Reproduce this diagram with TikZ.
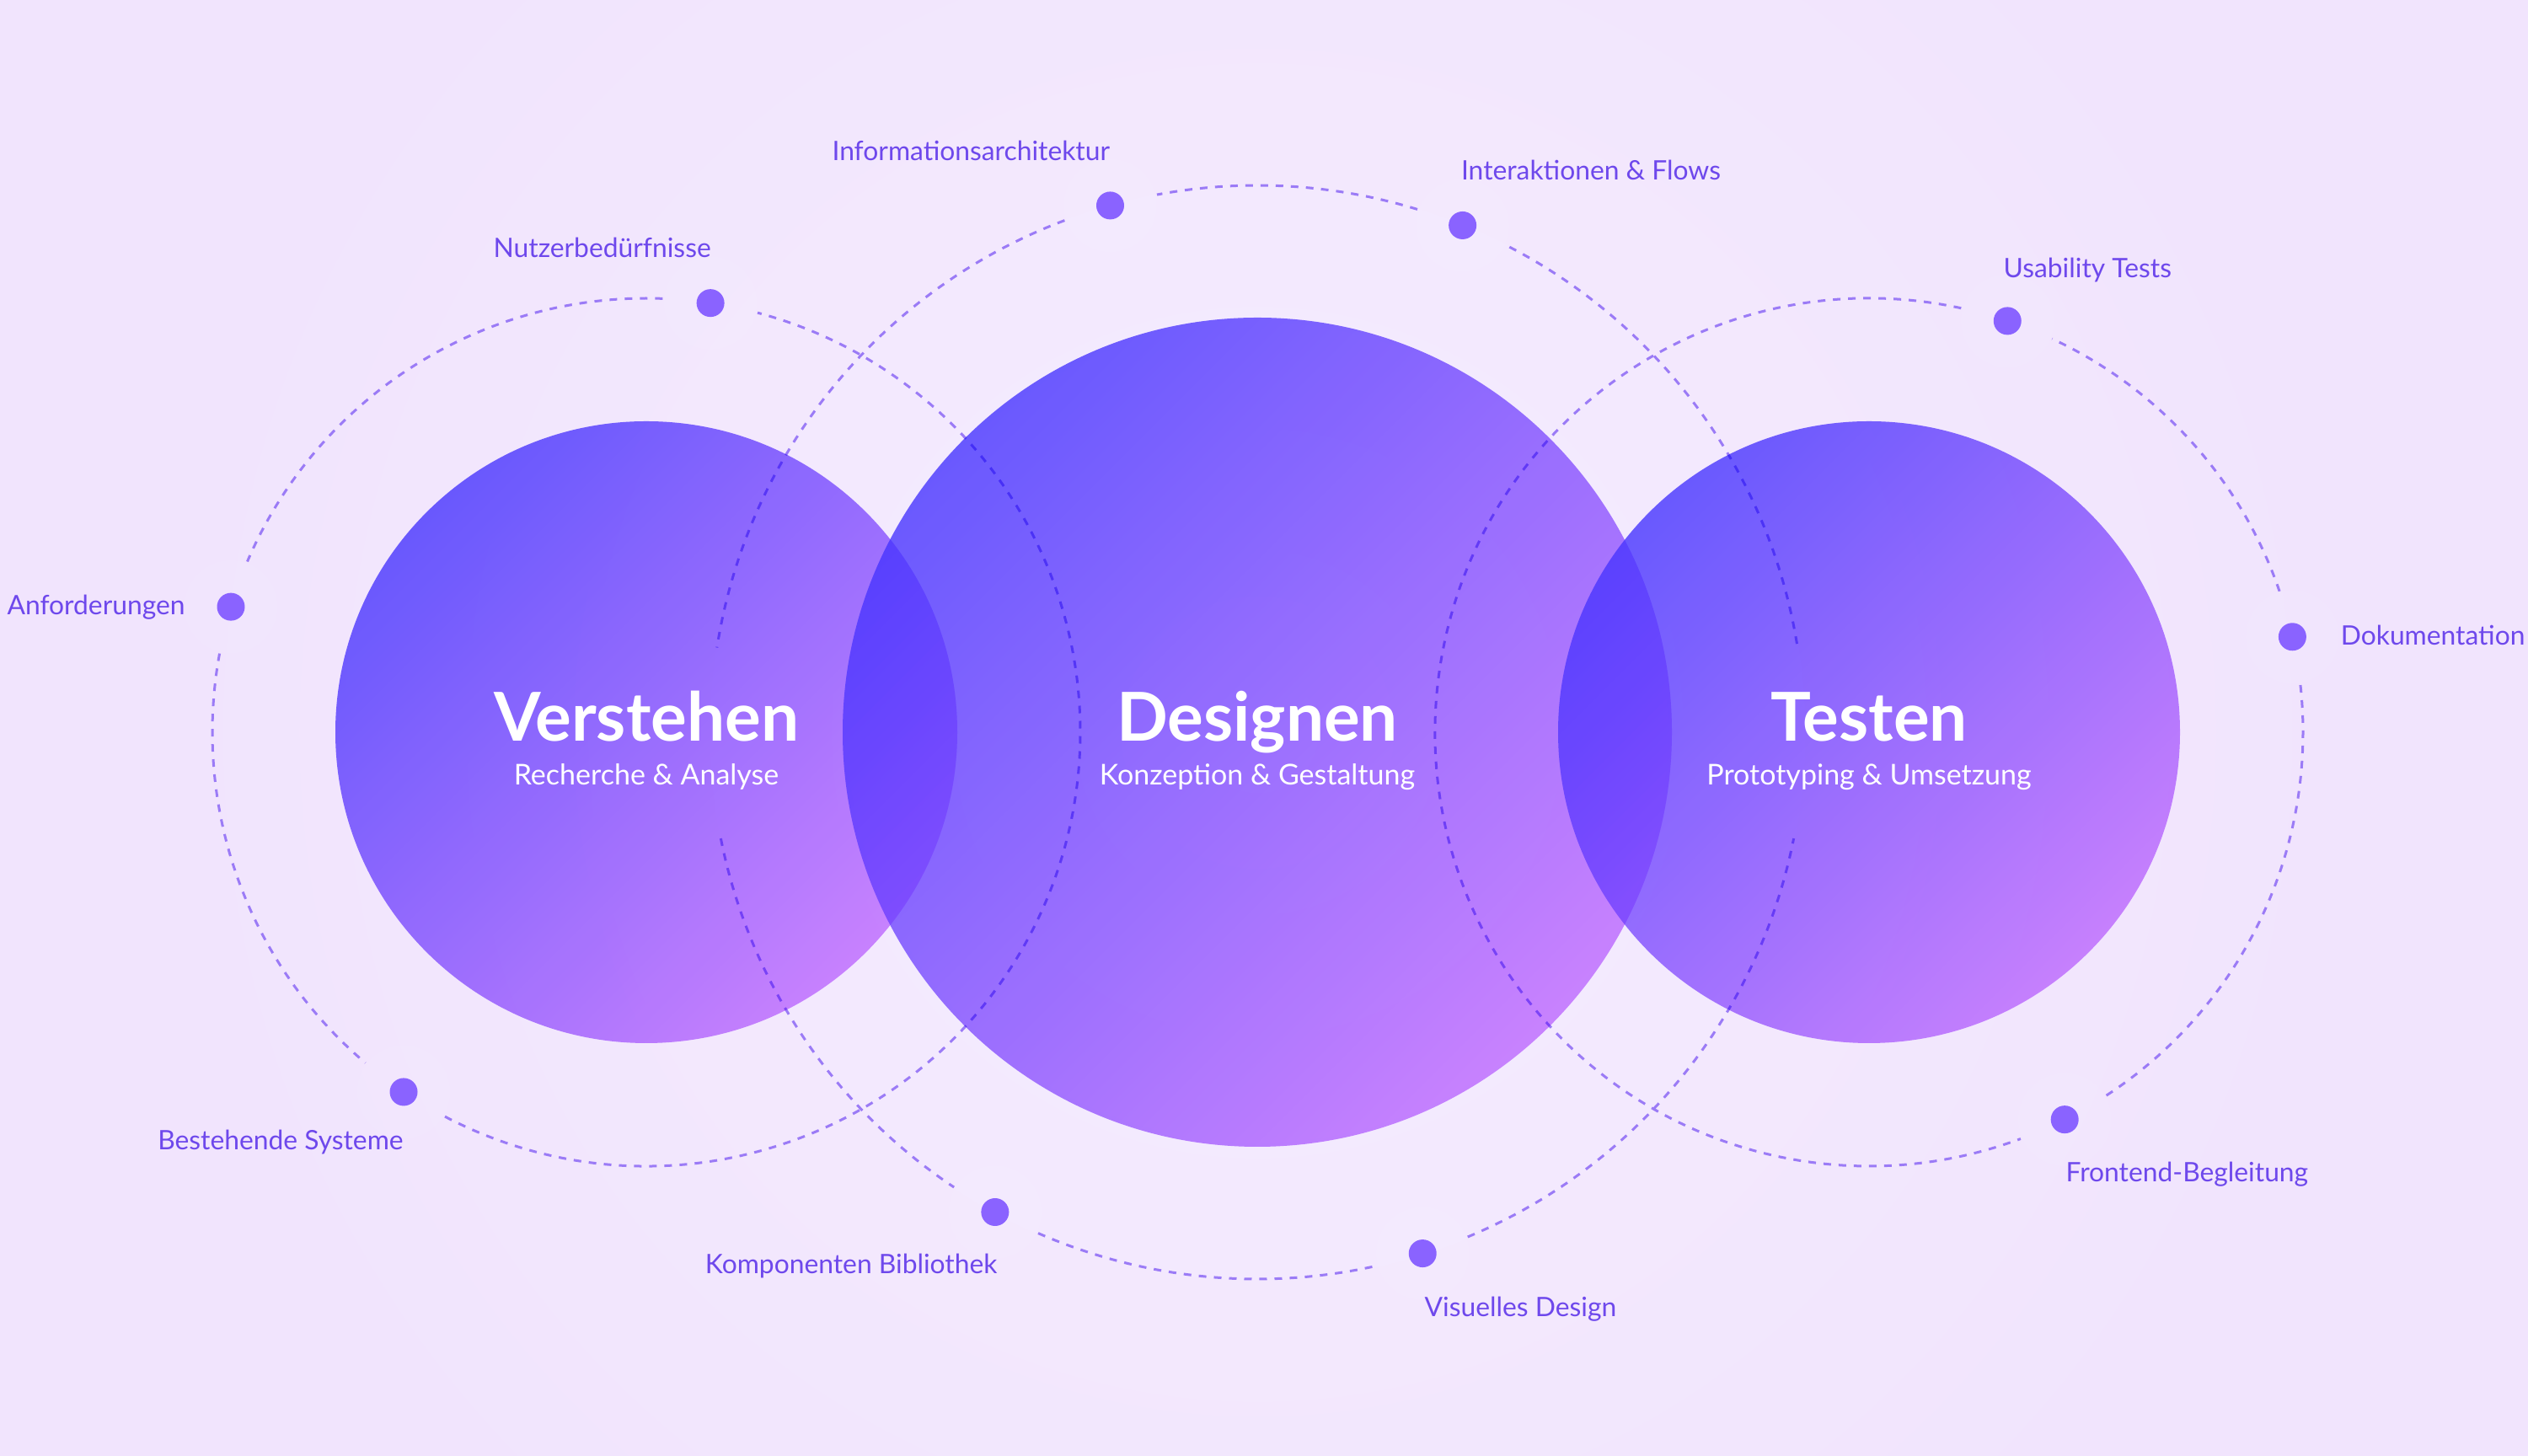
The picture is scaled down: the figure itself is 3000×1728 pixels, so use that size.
\documentclass[tikz,border=0pt]{standalone}
\usepackage{fontspec}
\setmainfont{Lato}
\usetikzlibrary{calc}
\definecolor{bg}{HTML}{F1E4FD}
\definecolor{bgin}{HTML}{F5EDFE}
\definecolor{dashc}{HTML}{9B7BF6}
\definecolor{dotc}{HTML}{8A63FF}
\definecolor{lblc}{HTML}{6E48EC}
\definecolor{ca}{HTML}{6F62FF}
\definecolor{cb}{HTML}{D18EFF}
\tikzset{
  orbit/.style={draw=dashc, line width=1.5pt, dash pattern=on 4.5pt off 4.5pt},
  dotnode/.style={circle, fill=dotc, inner sep=0pt, minimum size=16.5pt},
  halo/.style={fill=white, opacity=0.07},
  lbl/.style={text=lblc, inner sep=0pt, font=\fontsize{15.9}{19}\selectfont},
  bigdisc/.style={top color=ca, bottom color=cb, shading angle=45, blend mode=multiply},
  ttl/.style={text=white, inner sep=0pt, anchor=base, font=\fontsize{40}{44}\selectfont\bfseries},
  subttl/.style={text=white, inner sep=0pt, anchor=base, font=\fontsize{17}{20}\selectfont}
}
\begin{document}
\begin{tikzpicture}[x=0.5pt,y=0.5pt]
\useasboundingbox (0,0) rectangle (3000,1728);
\fill[bg] (0,0) rectangle (3000,1728);
\shade[inner color=bgin, outer color=bg] (1492,859) circle (1300);

\coordinate (cL) at (767,859);
\coordinate (cM) at (1492,859);
\coordinate (cR) at (2218,859);

% dot positions
\coordinate (pA) at ($(cL)+(163.2:515)$);
\coordinate (pN) at ($(cL)+(81.5:515)$);
\coordinate (pB) at ($(cL)+(236:515)$);
\coordinate (pI) at ($(cM)+(105.6:649)$);
\coordinate (pF) at ($(cM)+(67.95:649)$);
\coordinate (pK) at ($(cM)+(241.35:649)$);
\coordinate (pV) at ($(cM)+(287.6:649)$);
\coordinate (pU) at ($(cR)+(71.4:515)$);
\coordinate (pD) at ($(cR)+(12.7:515)$);
\coordinate (pR) at ($(cR)+(296.8:515)$);

% halos
\foreach \p in {pA,pN,pB,pI,pF,pK,pV,pU,pD,pR} {\fill[halo] (\p) circle (55);}

% left orbit
\draw[orbit] (cL) ++(87.85:515) arc[start angle=87.85, end angle=156.85, radius=515];
\draw[orbit] (cL) ++(169.55:515) arc[start angle=169.55, end angle=229.65, radius=515];
\draw[orbit] (cL) ++(242.35:515) arc[start angle=242.35, end angle=435.15, radius=515];
% middle orbit
\draw[orbit] (cM) ++(9.3:649) arc[start angle=9.3, end angle=62.92, radius=649];
\draw[orbit] (cM) ++(72.98:649) arc[start angle=72.98, end angle=100.57, radius=649];
\draw[orbit] (cM) ++(110.63:649) arc[start angle=110.63, end angle=171.1, radius=649];
\draw[orbit] (cM) ++(191.2:649) arc[start angle=191.2, end angle=236.32, radius=649];
\draw[orbit] (cM) ++(246.38:649) arc[start angle=246.38, end angle=282.57, radius=649];
\draw[orbit] (cM) ++(292.63:649) arc[start angle=292.63, end angle=348.8, radius=649];
% right orbit
\draw[orbit] (cR) ++(18.95:515) arc[start angle=18.95, end angle=65.05, radius=515];
\draw[orbit] (cR) ++(77.75:515) arc[start angle=77.75, end angle=290.45, radius=515];
\draw[orbit] (cR) ++(303.15:515) arc[start angle=303.15, end angle=366.35, radius=515];

% big discs
\shade[bigdisc] (cM) circle (492);
\shade[bigdisc] (cL) circle (369);
\shade[bigdisc] (cR) circle (369);
% soften the overlaps
\begin{scope}
  \clip (cM) circle (492);
  \fill[white, opacity=0.1] (cL) circle (369);
  \fill[white, opacity=0.1] (cR) circle (369);
\end{scope}

% titles
\node[ttl] (tL) at ($(cL)+(0,-11)$) {Verstehen};
\node[subttl] (sL) at ($(cL)+(0,-63)$) {Recherche \& Analyse};
\node[ttl] (tM) at ($(cM)+(0,-11)$) {Designen};
\node[subttl] (sM) at ($(cM)+(0,-63)$) {Konzeption \& Gestaltung};
\node[ttl] (tR) at ($(cR)+(0,-11)$) {Testen};
\node[subttl] (sR) at ($(cR)+(0,-63)$) {Prototyping \& Umsetzung};

% dots
\node[dotnode] (dA) at (pA) {};
\node[dotnode] (dN) at (pN) {};
\node[dotnode] (dB) at (pB) {};
\node[dotnode] (dI) at (pI) {};
\node[dotnode] (dF) at (pF) {};
\node[dotnode] (dK) at (pK) {};
\node[dotnode] (dV) at (pV) {};
\node[dotnode] (dU) at (pU) {};
\node[dotnode] (dD) at (pD) {};
\node[dotnode] (dR) at (pR) {};

% labels
\node[lbl, anchor=base east] (lA) at ($(dA)+(-54,-9)$) {Anforderungen};
\node[lbl, anchor=base east] (lN) at ($(dN)+(1,54)$) {Nutzerbedürfnisse};
\node[lbl, anchor=base east] (lB) at ($(dB)+(0,-69)$) {Bestehende Systeme};
\node[lbl, anchor=base east] (lI) at ($(dI)+(0,53)$) {Informationsarchitektur};
\node[lbl, anchor=base west] (lF) at ($(dF)+(-2,54)$) {Interaktionen \& Flows};
\node[lbl, anchor=base east] (lK) at ($(dK)+(3,-73)$) {Komponenten Bibliothek};
\node[lbl, anchor=base west] (lV) at ($(dV)+(2,-75)$) {Visuelles Design};
\node[lbl, anchor=base west] (lU) at ($(dU)+(-5,51)$) {Usability Tests};
\node[lbl, anchor=base west] (lD) at ($(dD)+(57,-10)$) {Dokumentation};
\node[lbl, anchor=base west] (lR) at ($(dR)+(1,-74)$) {Frontend-Begleitung};
\end{tikzpicture}
\end{document}
